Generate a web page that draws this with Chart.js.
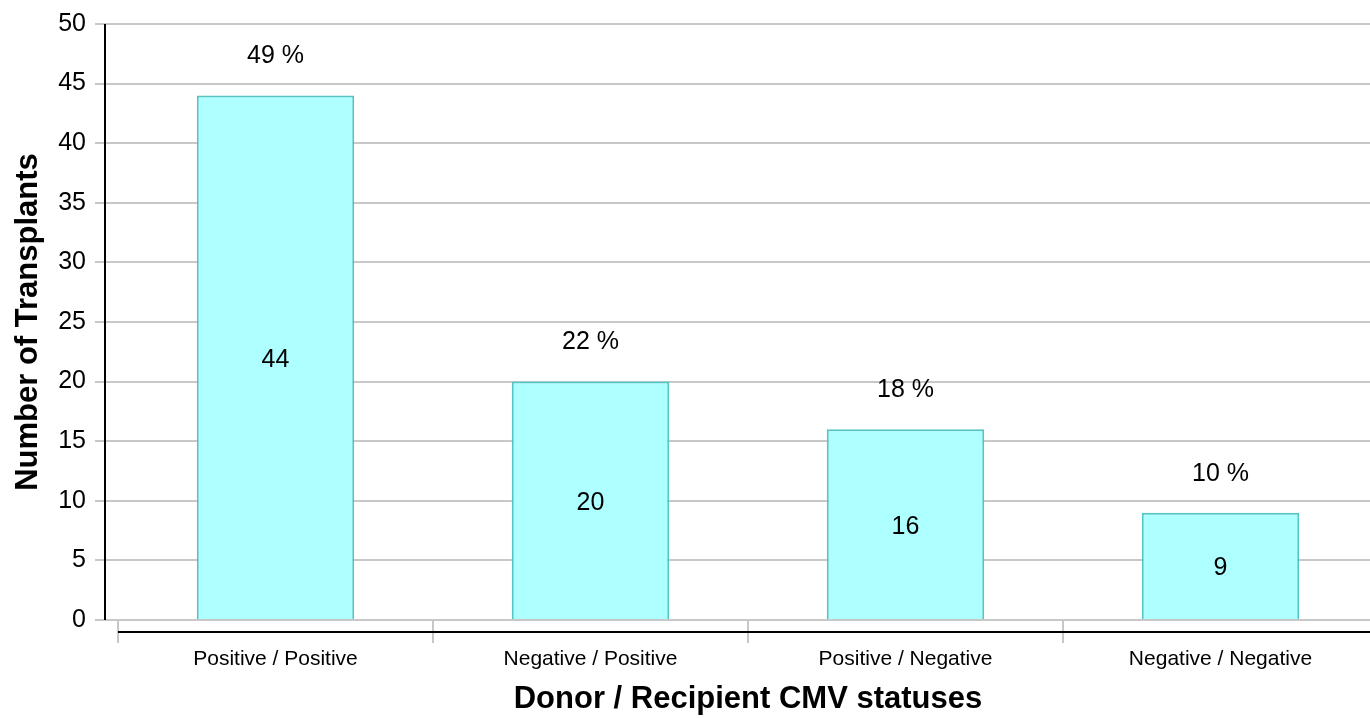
<!DOCTYPE html>
<html>
<head>
<meta charset="utf-8">
<script src="https://cdn.jsdelivr.net/npm/chart.js@4/dist/chart.umd.min.js"></script>
<style>
  html, body { margin: 0; padding: 0; background: #ffffff; overflow: hidden; }
  #wrap { position: relative; width: 1390px; height: 718px; }
</style>
</head>
<body>
<div id="wrap"><canvas id="c"></canvas></div>
<script>
const categories = ["Positive / Positive", "Negative / Positive", "Positive / Negative", "Negative / Negative"];
const transplants = [44, 20, 16, 9];
const percentages = [49, 22, 18, 10];
const yTicks = [0, 5, 10, 15, 20, 25, 30, 35, 40, 45, 50];

const FONT = "'Liberation Sans', Arial, Helvetica, sans-serif";

const labelPlugin = {
  id: 'labels',
  afterDraw(chart) {
    const ctx = chart.ctx;
    const meta = chart.getDatasetMeta(0);
    const y = chart.scales.y;
    const area = chart.chartArea;
    ctx.save();
    // custom axis lines
    ctx.strokeStyle = '#000000';
    ctx.lineWidth = 2;
    ctx.beginPath();
    ctx.moveTo(area.left - 13, y.getPixelForValue(50));
    ctx.lineTo(area.left - 13, y.getPixelForValue(0));
    ctx.stroke();
    ctx.beginPath();
    ctx.moveTo(area.left, area.bottom + 12);
    ctx.lineTo(area.right, area.bottom + 12);
    ctx.stroke();
    // labels
    ctx.fillStyle = '#000000';
    ctx.font = '25px ' + FONT;
    ctx.textAlign = 'center';
    ctx.textBaseline = 'middle';
    meta.data.forEach((bar, i) => {
      ctx.fillText(percentages[i] + ' %', bar.x, bar.y - 39);
      ctx.fillText(String(transplants[i]), bar.x, y.getPixelForValue(transplants[i] / 2) + 2);
    });
    ctx.restore();
  }
};

new Chart(document.getElementById('c'), {
  type: 'bar',
  data: {
    labels: categories,
    datasets: [{
      data: transplants,
      backgroundColor: '#aeffff',
      borderColor: '#55c4c4',
      borderWidth: 2,
      barPercentage: 0.5,
      categoryPercentage: 1.0
    }]
  },
  options: {
    responsive: true,
    maintainAspectRatio: false,
    animation: false,
    layout: { padding: { left: 0, right: 12, top: 19, bottom: 0 } },
    plugins: { legend: { display: false }, tooltip: { enabled: false } },
    scales: {
      x: {
        offset: true,
        afterFit(scale) { scale.height = 98; },
        grid: {
          display: true,
          drawOnChartArea: false,
          drawTicks: true,
          tickLength: 23,
          color: '#c8c8c8',
          lineWidth: 2,
          offset: true
        },
        border: { display: false },
        ticks: {
          color: '#000000',
          font: { family: FONT, size: 21 },
          padding: 4,
          maxRotation: 0
        },
        title: {
          display: true,
          text: 'Donor / Recipient CMV statuses',
          color: '#000000',
          font: { family: FONT, size: 31, weight: 'bold' },
          padding: { top: 0, bottom: 0 }
        }
      },
      y: {
        min: 0,
        max: 50,
        afterFit(scale) { scale.width = 118; },
        afterBuildTicks(scale) { scale.ticks = yTicks.map(v => ({ value: v })); },
        grid: {
          color: '#c8c8c8',
          lineWidth: 2,
          drawTicks: true,
          tickLength: 23
        },
        border: { display: false },
        ticks: {
          color: '#000000',
          font: { family: FONT, size: 25 },
          padding: 9
        },
        title: {
          display: true,
          text: 'Number of Transplants',
          color: '#000000',
          font: { family: FONT, size: 31, weight: 'bold' },
          padding: { top: 10, bottom: 0 }
        }
      }
    }
  },
  plugins: [labelPlugin]
});
</script>
</body>
</html>
